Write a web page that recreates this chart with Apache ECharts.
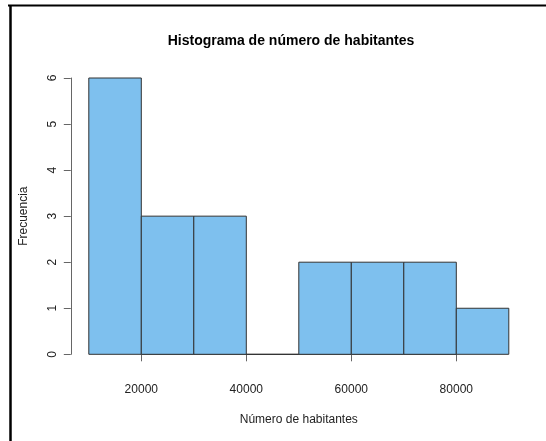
<!DOCTYPE html>
<html>
<head>
<meta charset="utf-8">
<script src="https://cdn.jsdelivr.net/npm/echarts@6/dist/echarts.min.js"></script>
<style>
html,body{margin:0;padding:0;background:#fff;}
#chart{width:546px;height:441px;}
</style>
</head>
<body>
<div id="chart"></div>
<script>
const binStart = [10000, 20000, 30000, 40000, 50000, 60000, 70000, 80000];
const binEnd   = [20000, 30000, 40000, 50000, 60000, 70000, 80000, 90000];
const counts   = [6, 3, 3, 0, 2, 2, 2, 1];
const xTicks = [20000, 40000, 60000, 80000];
const yTicks = [0, 1, 2, 3, 4, 5, 6];

const chart = echarts.init(document.getElementById('chart'), null, {renderer: 'canvas'});
const data = binStart.map((s, i) => [s, binEnd[i], counts[i]]);
const font = 'Liberation Sans, Arial, sans-serif';

const option = {
  animation: false,
  backgroundColor: '#fff',
  title: {
    text: 'Histograma de número de habitantes',
    left: 286, top: 29, textAlign: 'center',
    textStyle: {fontFamily: font, fontSize: 14, fontWeight: 'bold', color: '#000'}
  },
  grid: [
    {left: 88.8, right: 37.2, top: 78, bottom: 86.7},
    {left: 141.3, right: 89.7, top: 78, bottom: 86.7}
  ],
  xAxis: [
    {
      gridIndex: 0, type: 'value', min: binStart[0], max: binEnd[binEnd.length - 1],
      axisLine: {show: false}, axisTick: {show: false}, axisLabel: {show: false}, splitLine: {show: false},
      name: 'Número de habitantes', nameLocation: 'middle', nameGap: 59,
      nameTextStyle: {fontFamily: font, fontSize: 12, color: '#222'}
    },
    {
      gridIndex: 1, type: 'value', min: xTicks[0], max: xTicks[xTicks.length - 1], interval: 20000,
      offset: 12,
      axisLine: {show: true, lineStyle: {color: '#666', width: 1}},
      axisTick: {show: true, length: 7, lineStyle: {color: '#666'}},
      axisLabel: {show: true, margin: 17, fontFamily: font, fontSize: 12, color: '#222',
                  formatter: function (v) { return String(v); }},
      splitLine: {show: false}
    }
  ],
  yAxis: [
    {
      gridIndex: 0, type: 'value', min: yTicks[0], max: yTicks[yTicks.length - 1], interval: 1,
      offset: 18,
      axisLine: {show: true, lineStyle: {color: '#666', width: 1}},
      axisTick: {show: true, length: 7, lineStyle: {color: '#666'}},
      axisLabel: {show: true, rotate: 90, margin: 12, fontFamily: font, fontSize: 12, color: '#222'},
      splitLine: {show: false},
      name: 'Frecuencia', nameLocation: 'middle', nameGap: 41, nameRotate: 90,
      nameTextStyle: {fontFamily: font, fontSize: 12, color: '#222'}
    },
    {
      gridIndex: 1, type: 'value', min: 0, max: 6, show: false
    }
  ],
  graphic: [
    {type: 'line', shape: {x1: 8, y1: 5.5, x2: 546, y2: 5.5}, style: {stroke: '#000', lineWidth: 2}},
    {type: 'line', shape: {x1: 10.5, y1: 5, x2: 10.5, y2: 441}, style: {stroke: '#000', lineWidth: 2.5}}
  ],
  series: [{
    type: 'custom',
    xAxisIndex: 0, yAxisIndex: 0,
    data: data,
    renderItem: function (params, api) {
      const p0 = api.coord([api.value(0), api.value(2)]);
      const p1 = api.coord([api.value(1), 0]);
      return {
        type: 'rect',
        shape: {x: p0[0], y: p0[1], width: p1[0] - p0[0], height: p1[1] - p0[1]},
        style: {fill: '#7EC0EE', stroke: '#333', lineWidth: 1}
      };
    }
  }]
};
chart.setOption(option);
</script>
</body>
</html>
